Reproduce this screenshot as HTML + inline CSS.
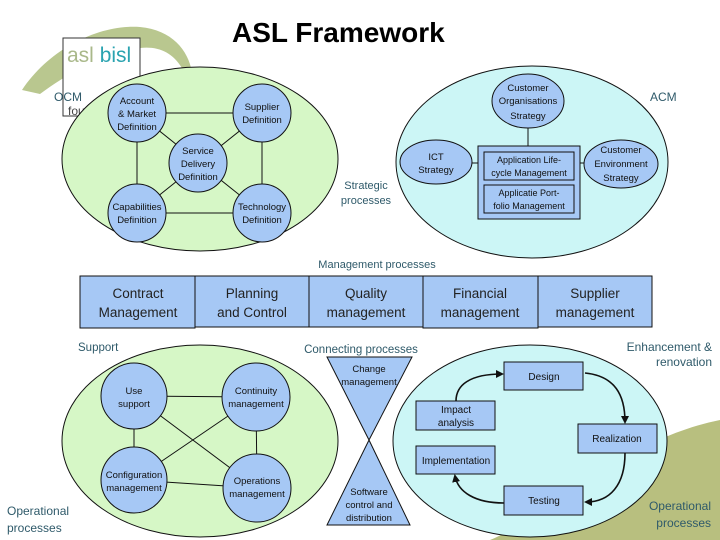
<!DOCTYPE html>
<html><head><meta charset="utf-8"><style>
html,body{margin:0;padding:0;background:#fff;}
svg{display:block;font-family:"Liberation Sans",sans-serif;}
</style></head><body>
<svg width="720" height="540" viewBox="0 0 720 540" xmlns="http://www.w3.org/2000/svg">
<defs><marker id="ah" markerWidth="8" markerHeight="8" refX="6" refY="4" orient="auto" markerUnits="userSpaceOnUse"><path d="M0,0 L8,4 L0,8 z" fill="#111"/></marker></defs>
<path d="M22,90 C50,48 100,24 140,27 C172,30 188,50 192,72 L182,68 C172,52 158,46 140,48 C105,52 70,72 40,94 Z" fill="#b9c78f"/>
<path d="M720,420 L720,540 L490,540 C540,520 620,440 720,420 Z" fill="#b8bf7f"/>
<rect x="63" y="38" width="77" height="78" fill="#fff" stroke="#333" stroke-width="1"/>
<text x="67" y="62" font-size="21" fill="#a9b88a">asl <tspan fill="#2aa3b0">bisl</tspan></text>
<text x="68" y="115" font-size="12" fill="#444">fou</text>
<text x="232" y="42" font-size="28" font-weight="bold" fill="#000">ASL Framework</text>

<ellipse cx="200" cy="159" rx="138" ry="92" fill="#d6f7c6" stroke="#111"/>
<g stroke="#111" stroke-width="1">
<line x1="137" y1="113" x2="262" y2="113"/><line x1="137" y1="213" x2="262" y2="213"/>
<line x1="137" y1="113" x2="137" y2="213"/><line x1="262" y1="113" x2="262" y2="213"/>
<line x1="137" y1="113" x2="262" y2="213"/><line x1="262" y1="113" x2="137" y2="213"/>
</g>
<g fill="#a6c8f5" stroke="#111">
<circle cx="137" cy="113" r="29"/><circle cx="262" cy="113" r="29"/><circle cx="198" cy="163" r="29"/>
<circle cx="137" cy="213" r="29"/><circle cx="262" cy="213" r="29"/>
</g>
<g font-size="9.5" fill="#111" text-anchor="middle">
<text x="137" y="104">Account</text><text x="137" y="117">&amp; Market</text><text x="137" y="130">Definition</text>
<text x="262" y="110">Supplier</text><text x="262" y="123">Definition</text>
<text x="198" y="154">Service</text><text x="198" y="167">Delivery</text><text x="198" y="180">Definition</text>
<text x="137" y="210">Capabilities</text><text x="137" y="223">Definition</text>
<text x="262" y="210">Technology</text><text x="262" y="223">Definition</text>
</g>
<text x="54" y="101" font-size="12" fill="#2f5a6a">OCM</text>

<ellipse cx="532" cy="162" rx="136" ry="96" fill="#ccf6f6" stroke="#111"/>
<g stroke="#111"><line x1="528" y1="128" x2="528" y2="146"/><line x1="472" y1="163" x2="478" y2="163"/><line x1="580" y1="163" x2="585" y2="163"/></g>
<g fill="#a6c8f5" stroke="#111">
<ellipse cx="528" cy="101" rx="36" ry="27"/><ellipse cx="436" cy="162" rx="36" ry="22"/><ellipse cx="621" cy="164" rx="37" ry="24"/>
<rect x="478" y="146" width="102" height="73"/><rect x="484" y="152" width="90" height="28"/><rect x="484" y="185" width="90" height="28"/>
</g>
<g font-size="9.5" fill="#111" text-anchor="middle">
<text x="528" y="91">Customer</text><text x="528" y="104">Organisations</text><text x="528" y="119">Strategy</text>
<text x="436" y="160">ICT</text><text x="436" y="173">Strategy</text>
<text x="621" y="153">Customer</text><text x="621" y="167">Environment</text><text x="621" y="181">Strategy</text>
<text x="529" y="163" font-size="9">Application Life-</text><text x="529" y="176" font-size="9">cycle Management</text>
<text x="529" y="196" font-size="9">Applicatie Port-</text><text x="529" y="209" font-size="9">folio Management</text>
</g>
<text x="650" y="101" font-size="12" fill="#2f5a6a">ACM</text>
<text x="366" y="189" font-size="11" fill="#2f5a6a" text-anchor="middle">Strategic</text>
<text x="366" y="204" font-size="11" fill="#2f5a6a" text-anchor="middle">processes</text>

<text x="377" y="268" font-size="11" fill="#2f5a6a" text-anchor="middle">Management processes</text>
<g fill="#a6c8f5" stroke="#111">
<rect x="80" y="276" width="115" height="52"/><rect x="195" y="276" width="114" height="51"/><rect x="309" y="276" width="114" height="51"/><rect x="423" y="276" width="115" height="52"/><rect x="538" y="276" width="114" height="51"/>
</g>
<g font-size="13.5" fill="#222" text-anchor="middle">
<text x="138" y="298">Contract</text><text x="138" y="317">Management</text>
<text x="252" y="298">Planning</text><text x="252" y="317">and Control</text>
<text x="366" y="298">Quality</text><text x="366" y="317">management</text>
<text x="480" y="298">Financial</text><text x="480" y="317">management</text>
<text x="595" y="298">Supplier</text><text x="595" y="317">management</text>
</g>

<text x="78" y="351" font-size="11.5" fill="#2f5a6a">Support</text>
<ellipse cx="200" cy="441" rx="138" ry="96" fill="#d6f7c6" stroke="#111"/>
<g stroke="#111">
<line x1="134" y1="396" x2="256" y2="397"/><line x1="134" y1="480" x2="257" y2="488"/>
<line x1="134" y1="396" x2="134" y2="480"/><line x1="256" y1="397" x2="257" y2="488"/>
<line x1="134" y1="396" x2="257" y2="488"/><line x1="256" y1="397" x2="134" y2="480"/>
</g>
<g fill="#a6c8f5" stroke="#111">
<circle cx="134" cy="396" r="33"/><circle cx="256" cy="397" r="34"/><circle cx="134" cy="480" r="33"/><circle cx="257" cy="488" r="34"/>
</g>
<g font-size="9.5" fill="#111" text-anchor="middle">
<text x="134" y="394">Use</text><text x="134" y="407">support</text>
<text x="256" y="394">Continuity</text><text x="256" y="407">management</text>
<text x="134" y="478">Configuration</text><text x="134" y="491">management</text>
<text x="257" y="484">Operations</text><text x="257" y="497">management</text>
</g>
<text x="7" y="515" font-size="12" fill="#2f5a6a">Operational</text>
<text x="7" y="532" font-size="12" fill="#2f5a6a">processes</text>

<text x="361" y="353" font-size="11.5" fill="#2f5a6a" text-anchor="middle">Connecting processes</text>
<polygon points="327,357 412,357 369,440" fill="#a6c8f5" stroke="#111"/>
<polygon points="369,440 410,525 327,525" fill="#a6c8f5" stroke="#111"/>
<g font-size="9.5" fill="#111" text-anchor="middle">
<text x="369" y="372">Change</text><text x="369" y="385">management</text>
<text x="369" y="495">Software</text><text x="369" y="508">control and</text><text x="369" y="521">distribution</text>
</g>

<ellipse cx="530" cy="441" rx="137" ry="96" fill="#ccf6f6" stroke="#111"/>
<text x="712" y="351" font-size="12" fill="#2f5a6a" text-anchor="end">Enhancement &amp;</text>
<text x="712" y="366" font-size="12" fill="#2f5a6a" text-anchor="end">renovation</text>
<g fill="#a6c8f5" stroke="#111">
<rect x="504" y="362" width="79" height="28"/><rect x="416" y="401" width="79" height="29"/><rect x="578" y="424" width="79" height="29"/><rect x="416" y="446" width="79" height="28"/><rect x="504" y="486" width="79" height="29"/>
</g>
<g font-size="10" fill="#111" text-anchor="middle">
<text x="544" y="380">Design</text>
<text x="456" y="413">Impact</text><text x="456" y="426">analysis</text>
<text x="617" y="442">Realization</text>
<text x="456" y="464">Implementation</text>
<text x="544" y="504">Testing</text>
</g>
<g fill="none" stroke="#111" stroke-width="1.6">
<path d="M456,401 C456,385 470,374 502,374" marker-end="url(#ah)"/>
<path d="M585,373 C615,376 625,395 625,422" marker-end="url(#ah)"/>
<path d="M625,453 C625,485 610,502 586,502" marker-end="url(#ah)"/>
<path d="M504,503 C475,503 458,492 455,476" marker-end="url(#ah)"/>
</g>
<text x="711" y="510" font-size="12" fill="#2f5a6a" text-anchor="end">Operational</text>
<text x="711" y="527" font-size="12" fill="#2f5a6a" text-anchor="end">processes</text>
</svg>
</body></html>
